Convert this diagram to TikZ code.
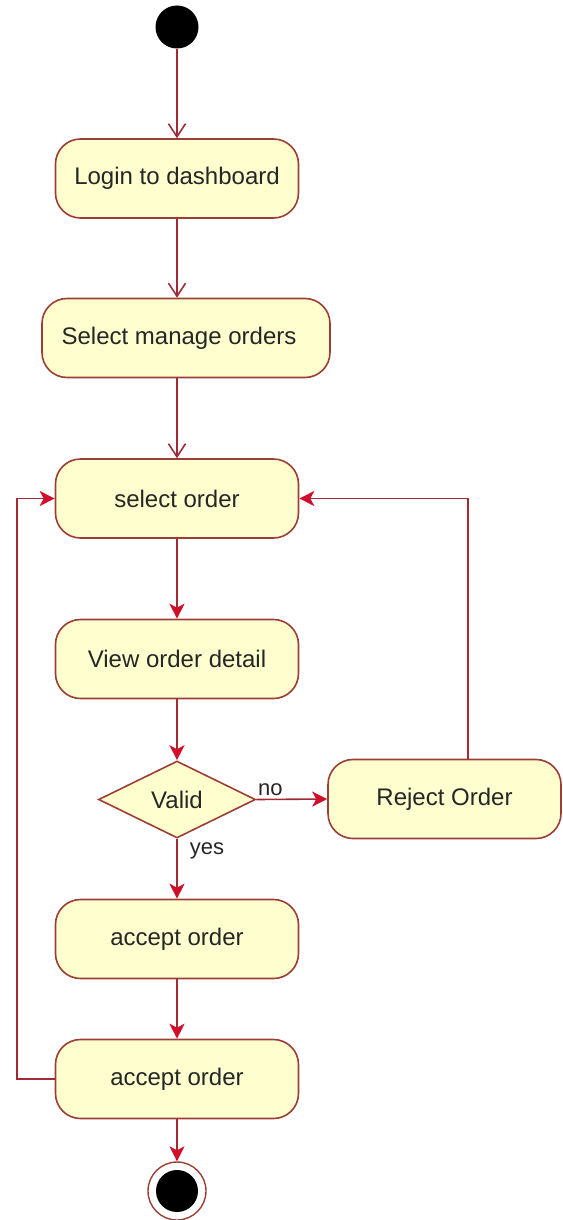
\documentclass[tikz,border=0pt]{standalone}
\usepackage{fontspec}
\setmainfont{Liberation Sans}
\usetikzlibrary{shapes.geometric,arrows.meta,positioning}
\definecolor{actfill}{HTML}{FEFECE}
\definecolor{actline}{HTML}{9C3E36}
\definecolor{flowline}{HTML}{A02A36}
\definecolor{tipred}{HTML}{D0102A}
\definecolor{txt}{HTML}{262626}
\begin{document}
\begin{tikzpicture}[x=1pt,y=-1pt,
  action/.style={draw=actline, fill=actfill, line width=1.6pt, rounded corners=25pt,
    minimum width=243pt, minimum height=79pt, inner sep=0pt,
    font=\fontsize{24}{28}\selectfont, text=txt},
  decision/.style={draw=actline, fill=actfill, line width=1.6pt, diamond,
    minimum width=157pt, minimum height=77pt, inner sep=0pt,
    font=\fontsize{24}{28}\selectfont, text=txt},
  openflow/.style={draw=flowline, line width=1.6pt, -{Straight Barb[length=13pt,width=17pt,line width=1.6pt]}},
  flow/.style={draw=flowline, line width=1.6pt, -{Stealth[length=15pt,width=15pt,inset=4pt,fill=tipred,color=tipred]}},
  lbl/.style={font=\fontsize{22}{26}\selectfont, text=txt, inner sep=0pt}
]
\useasboundingbox (0,0) rectangle (562,1220);

% start and end markers
\node[circle, fill=black, minimum size=43pt, inner sep=0pt] (start) at (177,27) {};
\node[circle, draw=actline, fill=white, line width=1.4pt, minimum size=58pt, inner sep=0pt] (stop) at (177,1191) {};
\node[circle, fill=black, minimum size=42pt, inner sep=0pt] (stopdot) at (177,1191) {};

% activities
\node[action] (login)  at (177,178.5) {Login to dashboard};
\node[action, minimum width=288pt] (manage) at (186,338) {Select manage orders\hspace*{14pt}};
\node[action] (select) at (177,498.5) {select order};
\node[action] (view)   at (177,659) {View order detail};
\node[decision] (valid) at (177,799.5) {Valid};
\node[action, minimum width=233pt] (reject) at (444.5,799) {Reject Order};
\node[action] (acc1)   at (177,939) {accept order};
\node[action] (acc2)   at (177,1079) {accept order};

% flows
\draw[openflow] (start) -- (login.north -| start);
\draw[openflow] (login.south -| start) -- (manage.north -| start);
\draw[openflow] (manage.south -| start) -- (select.north -| start);
\draw[flow] (select.south -| start) -- (view.north -| start);
\draw[flow] (view.south -| start) -- (valid.north);
\draw[flow] (valid.east) -- (reject.west)
  node[lbl, pos=0.0, above right, xshift=1pt, yshift=3pt] {no};
\draw[flow] (valid.south) -- (acc1.north -| valid.south)
  node[lbl, pos=0.0, below right, xshift=12pt, yshift=-3pt] {yes};
\draw[flow] (acc1.south -| start) -- (acc2.north -| start);
\draw[flow] (acc2.south -| start) -- (stop.north);
\coordinate (loopL) at (17,1079);
\draw[flow] (acc2.west) -- (loopL) |- (select.west);
\coordinate (rejTop) at ([xshift=23.5pt]reject.north);
\draw[flow] (rejTop) |- (select.east);
\end{tikzpicture}
\end{document}
